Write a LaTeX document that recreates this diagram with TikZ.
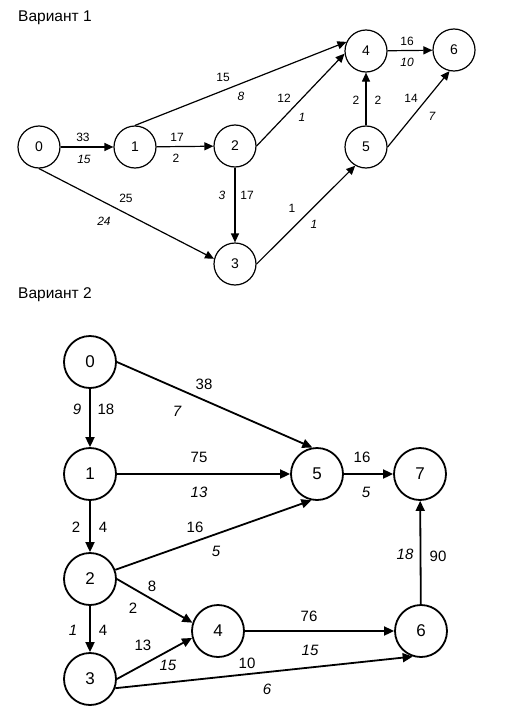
\documentclass[tikz,border=0pt]{standalone}
\usepackage{fontspec}
\setmainfont{Liberation Sans}
\usetikzlibrary{arrows.meta}
\begin{document}
\begin{tikzpicture}[x=1pt,y=-1pt,
  vone/.style={circle,draw,line width=1.2pt,minimum size=42pt,inner sep=0pt,font=\fontsize{14}{16}\selectfont},
  vtwo/.style={circle,draw,line width=1.8pt,minimum size=52pt,inner sep=0pt,font=\fontsize{17}{19}\selectfont},
  eone/.style={line width=1.2pt,-{Triangle[length=9pt,width=8pt]}},
  etwo/.style={line width=1.8pt,-{Triangle[length=10pt,width=9pt]}},
  lone/.style={inner sep=0pt,font=\fontsize{12}{14}\selectfont},
  lonei/.style={lone,font=\fontsize{12}{14}\selectfont\itshape},
  ltwo/.style={inner sep=0pt,font=\fontsize{15}{17}\selectfont},
  ltwoi/.style={ltwo,font=\fontsize{15}{17}\selectfont\itshape},
  ttl/.style={inner sep=0pt,anchor=west,font=\fontsize{15.5}{18}\selectfont}]
\useasboundingbox (0,0) rectangle (514,720);
\fill[white] (0,0) rectangle (514,720);

% ---------- Variant 1 ----------
\node[ttl] (t1) at (18,18) {Вариант 1};
\node[vone] (a0) at (39,147) {0};
\node[vone] (a1) at (135,147) {1};
\node[vone] (a2) at (235,146) {2};
\node[vone] (a3) at (235,264) {3};
\node[vone] (a4) at (366,51) {4};
\node[vone] (a5) at (366,147) {5};
\node[vone] (a6) at (454,50) {6};

\draw[eone] (a0) -- (a1);
\draw[eone] (a1) -- (a2);
\draw[eone] (a1.north) -- (a4.155);
\draw[eone] (a2.east) -- (a4.187);
\draw[eone] (a2) -- (a3);
\draw[eone] (a0.south) -- (a3.166);
\draw[eone] (a3.east) -- (a5.240);
\draw[eone] (a5) -- (a4);
\draw[eone] (a4) -- (a6);
\draw[eone] (a5.east) -- (a6.258);

\node[lone]  (p1) at (83,137) {33};
\node[lonei] (p2) at (84,159) {15};
\node[lone]  (p3) at (177,137) {17};
\node[lone]  (p4) at (176,158) {2};
\node[lone]  (p5) at (223,77) {15};
\node[lonei] (p6) at (241,96) {8};
\node[lone]  (p7) at (284,98) {12};
\node[lonei] (p8) at (302,117) {1};
\node[lonei] (p9) at (222,195) {3};
\node[lone]  (p10) at (247,195) {17};
\node[lone]  (p11) at (126,198) {25};
\node[lonei] (p12) at (104,221) {24};
\node[lone]  (p13) at (292,208) {1};
\node[lonei] (p14) at (314,224) {1};
\node[lone]  (p15) at (356,100) {2};
\node[lone]  (p16) at (378,100) {2};
\node[lone]  (p17) at (407,41) {16};
\node[lonei] (p18) at (407,62) {10};
\node[lone]  (p19) at (411,98) {14};
\node[lonei] (p20) at (432,116) {7};

% ---------- Variant 2 ----------
\node[ttl] (t2) at (18,295) {Вариант 2};
\node[vtwo] (b0) at (90,362) {0};
\node[vtwo] (b1) at (90,474) {1};
\node[vtwo] (b2) at (90,579) {2};
\node[vtwo] (b3) at (90,679) {3};
\node[vtwo] (b4) at (218,631) {4};
\node[vtwo] (b5) at (317,474) {5};
\node[vtwo] (b6) at (421,631) {6};
\node[vtwo] (b7) at (420,474) {7};

\draw[etwo] (b0) -- (b1);
\draw[etwo] (b0.east) -- (b5.100);
\draw[etwo] (b1) -- (b5);
\draw[etwo] (b5) -- (b7);
\draw[etwo] (b1) -- (b2);
\draw[etwo] (b2.20) -- (b5.258);
\draw[etwo] (b2.east) -- (b4.162);
\draw[etwo] (b2) -- (b3);
\draw[etwo] (b3.east) -- (b4.195);
\draw[etwo] (b4) -- (b6);
\draw[etwo] (b3.340) -- (b6.252);
\draw[etwo] (b6) -- (b7);

\node[ltwo]  (q1) at (204,384) {38};
\node[ltwoi] (q2) at (177,411) {7};
\node[ltwoi] (q3) at (77,409) {9};
\node[ltwo]  (q4) at (106,409) {18};
\node[ltwo]  (q5) at (199,457) {75};
\node[ltwoi] (q6) at (199,492) {13};
\node[ltwo]  (q7) at (362,457) {16};
\node[ltwoi] (q8) at (366,492) {5};
\node[ltwo]  (q9) at (76,527) {2};
\node[ltwo]  (q10) at (103,527) {4};
\node[ltwo]  (q11) at (195,527) {16};
\node[ltwoi] (q12) at (216,551) {5};
\node[ltwo]  (q13) at (152,586) {8};
\node[ltwo]  (q14) at (133,608) {2};
\node[ltwoi] (q15) at (73,630) {1};
\node[ltwo]  (q16) at (103,630) {4};
\node[ltwo]  (q17) at (143,645) {13};
\node[ltwoi] (q18) at (168,665) {15};
\node[ltwo]  (q19) at (309,616) {76};
\node[ltwoi] (q20) at (310,650) {15};
\node[ltwo]  (q21) at (247,663) {10};
\node[ltwoi] (q22) at (267,689) {6};
\node[ltwoi] (q23) at (405,554) {18};
\node[ltwo]  (q24) at (438,556) {90};
\end{tikzpicture}
\end{document}
